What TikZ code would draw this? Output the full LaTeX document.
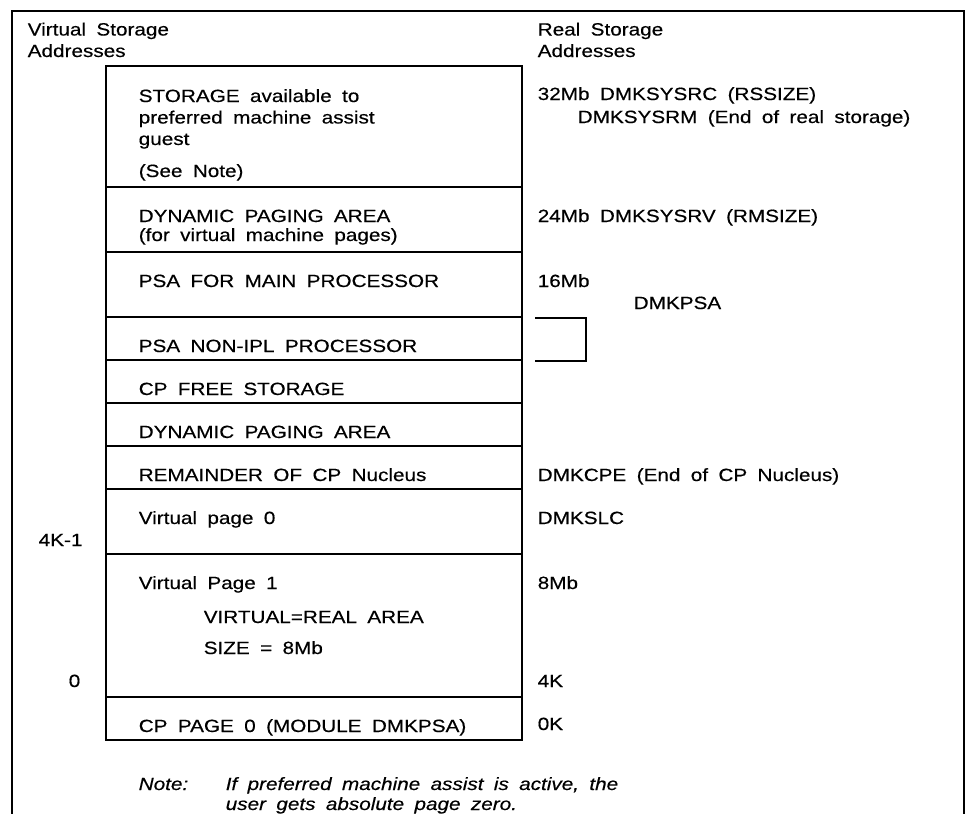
\documentclass[tikz,border=0pt]{standalone}
\usepackage{fontspec}
\setmainfont{Liberation Sans}[FakeStretch=1.17,WordSpace=1.8,FakeBold=0.4]
\begin{document}
\begin{tikzpicture}[x=1pt,y=-1pt,line width=1.5pt,
  every node/.style={font=\fontsize{17.7}{21.5}\selectfont},
  lbl/.style={anchor=base west,inner sep=0,align=left}]
\useasboundingbox (0,0) rectangle (967,814);
\draw (12,814)--(12,11)--(964,11)--(964,814);
\draw (106,66) rectangle (522,740);
\foreach \Y in {187,252,317,360,403,446,489,554,697}{\draw (106,\Y)--(522,\Y);}
\draw (535,318)--(586,318)--(586,361)--(535,361);
% areas in the stack (y = baseline of last line)
\foreach \N/\X/\Y/\T in {s1/138/145/{STORAGE available to\\preferred machine assist\\guest},
  s1n/138/177/(See Note),s2/138/241/{DYNAMIC PAGING AREA\\[-2.5pt](for virtual machine pages)},
  s3/138/287/PSA FOR MAIN PROCESSOR,s4/138/352/PSA NON-IPL PROCESSOR,s5/138/395/CP FREE STORAGE,
  s6/138/438/DYNAMIC PAGING AREA,s7/138/481/REMAINDER OF CP Nucleus,s8/138/524/Virtual page 0,
  s9/138/589/Virtual Page 1,s9a/203/623/VIRTUAL=REAL AREA,s9b/203/654/SIZE = 8Mb,
  s10/138/732/CP PAGE 0 (MODULE DMKPSA)}{
\node[lbl] (\N) at (\X,\Y) {\T};}
% real addresses
\foreach \N/\X/\Y/\T in {rs/537/57/{Real Storage\\Addresses},r1/537/100/32Mb DMKSYSRC (RSSIZE),
  r1b/577/123/DMKSYSRM (End of real storage),r2/537/222/24Mb DMKSYSRV (RMSIZE),r3/537/287/16Mb,
  r3b/633/309/DMKPSA,r4/537/481/DMKCPE (End of CP Nucleus),r5/537/524/DMKSLC,r6/537/589/8Mb,
  r7/537/687/4K,r8/537/730/0K}{
\node[lbl] (\N) at (\X,\Y) {\T};}
% virtual addresses
\node[lbl] (vs) at (27,57) {Virtual Storage\\Addresses};
\node[lbl] (v1) at (38,546) {4K-1};\node[lbl] (v0) at (68,687) {0};
\node[lbl,font=\fontsize{17.7}{20}\selectfont\itshape] (nt) at (138,790) {Note:};
\node[lbl,font=\fontsize{17.7}{20}\selectfont\itshape] (ntx) at (225,810) {If preferred machine assist is active, the\\user gets absolute page zero.};
\end{tikzpicture}
\end{document}
